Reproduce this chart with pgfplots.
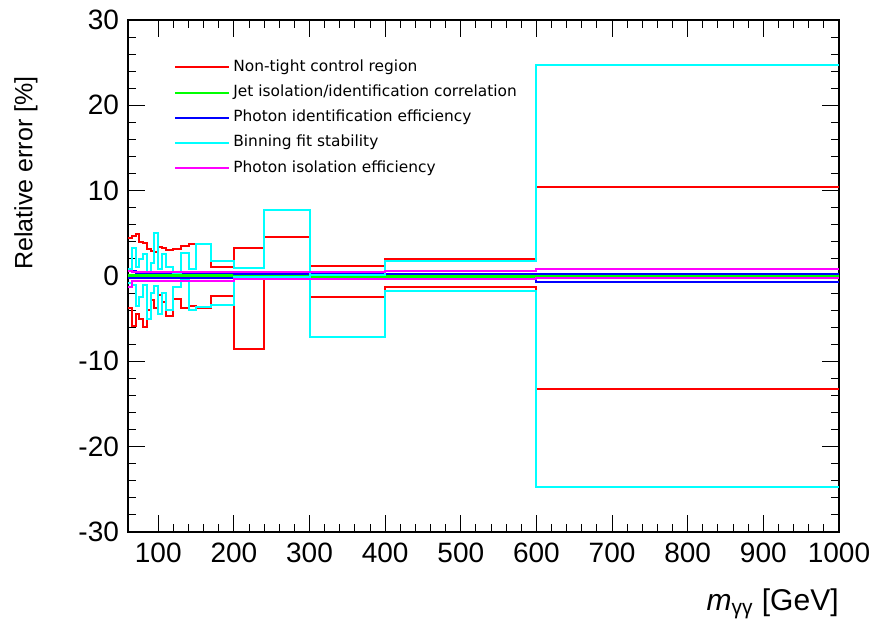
\documentclass[border=0pt]{standalone}
\usepackage{pgfplots}
\usepackage{pgfplotstable}
\pgfplotsset{compat=1.18}
\usepackage{fontspec}
\setmainfont{Liberation Sans}
\newfontfamily\legfont{DejaVu Sans}

\definecolor{rootred}{RGB}{255,0,0}
\definecolor{rootgreen}{RGB}{0,255,0}
\definecolor{rootblue}{RGB}{0,0,255}
\definecolor{rootcyan}{RGB}{0,255,255}
\definecolor{rootmagenta}{RGB}{255,0,255}

% bin left edges, last row repeats the last bin to close at 1000
\pgfplotstableread{
x    rup   rdn    cup   cdn    mup  mdn   bup  bdn   gup   gdn
60   4.4   -3.8   0.8   -0.8   0.6  -1.3  0.8  -0.2  0.15  -0.1
65   4.7   -5.9   3.3   -1.0   0.5  -0.6  0.6  -0.2  0.15  -0.1
70   4.9   -4.4   1.0   -3.5   0.5  -0.6  0.4  -0.2  0.15  -0.1
75   4.0   -5.0   2.0   -2.5   0.5  -0.6  0.3  -0.2  0.15  -0.1
80   3.9   -6.0   2.6   -1.0   0.5  -0.6  0.3  -0.2  0.15  -0.1
85   3.2   -4.0   0.5   -5.0   0.5  -0.6  0.3  -0.2  0.15  -0.1
90   2.9   -2.8   1.5   -2.0   0.5  -0.6  0.3  -0.2  0.15  -0.1
95   2.8   -3.7   5.0   -1.2   0.5  -0.6  0.3  -0.2  0.15  -0.1
100  3.4   -2.2   0.8   -4.5   0.5  -0.6  0.3  -0.2  0.15  -0.1
105  3.3   -3.0   2.6   -2.0   0.5  -0.6  0.3  -0.2  0.15  -0.1
110  3.0   -4.7   1.1   -4.0   0.5  -0.6  0.3  -0.2  0.15  -0.1
120  3.2   -2.7   0.3   -1.3   0.5  -0.6  0.3  -0.2  0.15  -0.1
130  3.5   -3.7   2.7   -0.5   0.5  -0.6  0.3  -0.2  0.15  -0.1
140  3.8   -3.5   0.8   -4.0   0.5  -0.6  0.3  -0.2  0.15  -0.1
150  3.7   -3.7   3.8   -3.6   0.5  -0.6  0.3  -0.2  0.15  -0.1
170  1.1   -2.4   1.7   -3.4   0.5  -0.6  0.3  -0.2  0.15  -0.1
200  3.3   -8.5   0.9   -0.1   0.5  -0.3  0.2  -0.2  0.15  -0.1
240  4.6   -0.3   7.7   -0.1   0.5  -0.3  0.2  -0.2  0.15  -0.1
300  1.2   -2.5   0.1   -7.2   0.5  -0.3  0.2  -0.3  0.15  -0.1
400  2.0   -1.3   1.7   -1.8   0.6  -0.3  0.2  -0.3  0.15  -0.1
600  10.4  -13.3  24.7  -24.7  0.8  -0.2  0.2  -0.7  0.15  -0.1
1000 10.4  -13.3  24.7  -24.7  0.8  -0.2  0.2  -0.7  0.15  -0.1
}\errtable

\begin{document}
\begin{tikzpicture}
\useasboundingbox (-64pt,-44.5pt) rectangle (373.5pt,266pt);
\begin{axis}[
    scale only axis,
    width=355.5pt, height=256pt,
    xmin=60, xmax=1000,
    ymin=-30, ymax=30,
    clip mode=individual,
    xtick={100,200,...,1000},
    ytick={-30,-20,...,30},
    minor x tick num=4,
    minor y tick num=4,
    tick align=inside,
    tick pos=both,
    major tick length=8.5pt,
    minor tick length=4pt,
    axis line style={line width=0.8pt},
    every tick/.style={black, line width=0.5pt},
    /pgf/number format/assume math mode=true,
    /pgf/number format/1000 sep={},
    ticklabel style={font=\fontsize{14}{16}\selectfont},
    xticklabel style={yshift=-2pt},
    yticklabel style={xshift=-1pt},
    legend style={legend cell align=left, draw=none, fill=none,
        at={(rel axis cs:0,1)}, anchor=north west, xshift=20pt, yshift=-16pt,
        font=\legfont\fontsize{7.7}{9}\selectfont,
        nodes={text height=6pt, text depth=2pt, inner sep=1.5pt},
        row sep=1.6pt,
        /tikz/every even column/.append style={column sep=5.5pt}},
    legend image code/.code={\draw[#1] (0pt,0pt) -- (27pt,0pt);},
    every axis plot/.append style={const plot, line width=1pt, mark=none},
]
\addplot[rootred] table[x=x, y=rup] {\errtable};
\addlegendentry{Non-tight control region}
\addplot[rootgreen] table[x=x, y=gup] {\errtable};
\addlegendentry{Jet isolation/identification correlation}
\addplot[rootblue] table[x=x, y=bup] {\errtable};
\addlegendentry{Photon identification efficiency}
\addplot[rootcyan] table[x=x, y=cup] {\errtable};
\addlegendentry{Binning fit stability}
\addplot[rootmagenta] table[x=x, y=mup] {\errtable};
\addlegendentry{Photon isolation efficiency}

\addplot[rootred, forget plot] table[x=x, y=rdn] {\errtable};
\addplot[rootgreen, forget plot] table[x=x, y=gdn] {\errtable};
\addplot[rootblue, forget plot] table[x=x, y=bdn] {\errtable};
\addplot[rootcyan, forget plot] table[x=x, y=cdn] {\errtable};
\addplot[rootmagenta, forget plot] table[x=x, y=mdn] {\errtable};

\node[rotate=90, anchor=south east, inner sep=0pt, font=\fontsize{12.5}{15}\selectfont]
    at ([xshift=-45pt, yshift=-28pt]rel axis cs:0,1) {Relative error [\%]};
\node[anchor=north east, inner sep=0pt, font=\fontsize{15}{17}\selectfont]
    at ([yshift=-28pt]rel axis cs:1,0) {\textit{m}\textsubscript{γγ} [GeV]};
\end{axis}
\end{tikzpicture}
\end{document}
